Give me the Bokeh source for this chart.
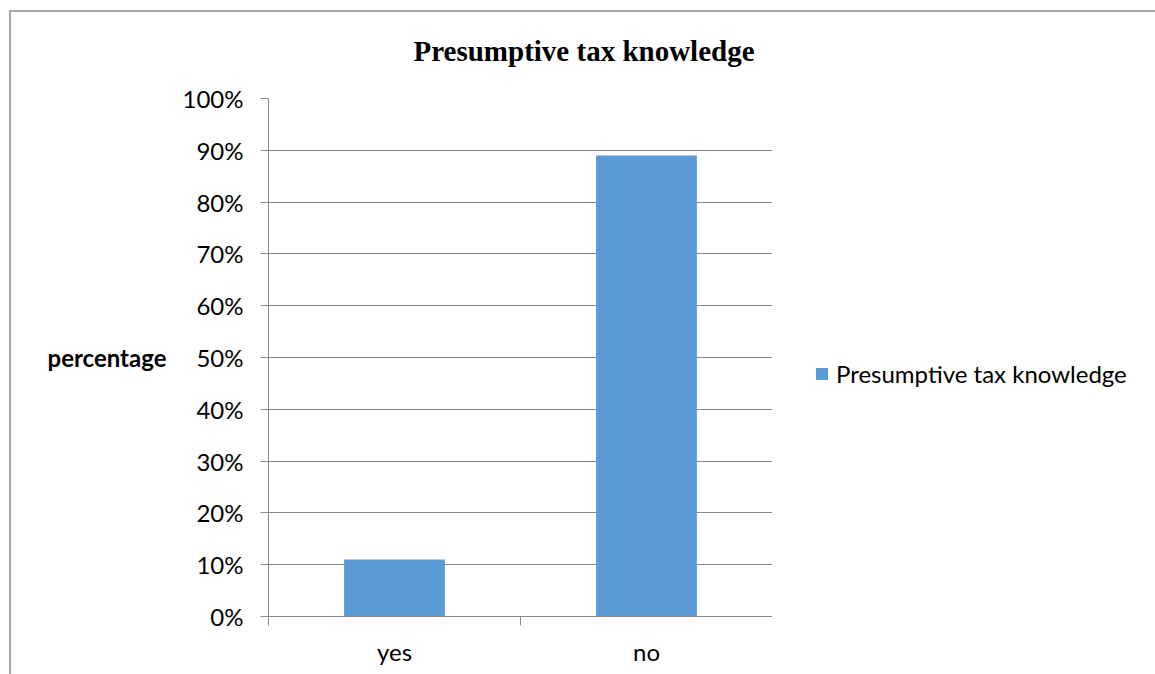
from bokeh.plotting import figure
from bokeh.layouts import row
from bokeh.models import (FixedTicker, NumeralTickFormatter, Legend, LegendItem,
                          Range1d, InlineStyleSheet)
from bokeh.embed import file_html
from bokeh.resources import INLINE

categories = ["yes", "no"]
values = [0.11, 0.89]
series_name = "Presumptive tax knowledge"
y_ticks = [0.0, 0.1, 0.2, 0.3, 0.4, 0.5, 0.6, 0.7, 0.8, 0.9, 1.0]

BAR = "#5B9BD5"
GRID = "#898989"
FONT = "Lato"

p = figure(width=772, height=674, output_backend="svg", toolbar_location=None,
           min_border_left=268, min_border_right=0, min_border_top=98, min_border_bottom=58,
           x_range=Range1d(0, len(categories)), y_range=Range1d(0, 1))

xs = [i + 0.5 for i in range(len(categories))]
r = p.vbar(x=xs, top=values, width=0.4, fill_color=BAR, line_color=None)

p.outline_line_color = None
p.background_fill_color = "white"
p.border_fill_alpha = 0

# title
p.title.text = "Presumptive tax knowledge"
p.title.align = "left"
p.title.offset = 145
p.title.standoff = 63
p.title.text_font = "Liberation Serif"
p.title.text_font_style = "bold"
p.title.text_font_size = "29px"
p.title.text_color = "black"

# y axis
p.yaxis.ticker = FixedTicker(ticks=y_ticks)
p.yaxis.formatter = NumeralTickFormatter(format="0%")
p.yaxis.major_tick_in = 0
p.yaxis.major_tick_out = 8
p.yaxis.minor_tick_line_color = None
p.yaxis.major_label_standoff = 17
p.yaxis.major_label_text_font = FONT
p.yaxis.major_label_text_font_size = "24px"
p.yaxis.major_label_text_color = "black"
p.yaxis.axis_line_color = GRID
p.yaxis.major_tick_line_color = GRID
p.yaxis.axis_label = "percentage"
p.yaxis.axis_label_text_font = FONT
p.yaxis.axis_label_text_font_style = "bold"
p.yaxis.axis_label_text_font_size = "24px"
p.yaxis.axis_label_text_color = "black"
p.yaxis.axis_label_standoff = 13
try:
    p.yaxis.axis_label_orientation = "horizontal"
except Exception:
    pass

# x axis: labels at centres, tick marks at category boundaries
p.xaxis.ticker = FixedTicker(ticks=xs, minor_ticks=list(range(len(categories) + 1)))
p.xaxis.major_label_overrides = {x: c for x, c in zip(xs, categories)}
p.xaxis.major_tick_line_color = None
p.xaxis.minor_tick_line_color = GRID
p.xaxis.minor_tick_in = 0
p.xaxis.minor_tick_out = 9
p.xaxis.major_label_standoff = 11
p.xaxis.major_label_text_font = FONT
p.xaxis.major_label_text_font_size = "24px"
p.xaxis.major_label_text_color = "black"
p.xaxis.axis_line_color = GRID

p.xgrid.grid_line_color = None
p.ygrid.grid_line_color = GRID
p.ygrid.ticker = FixedTicker(ticks=y_ticks)

# legend area (right of the plot)
p2 = figure(width=383, height=674, output_backend="svg", toolbar_location=None,
            min_border=0, x_axis_location=None, y_axis_location=None,
            x_range=Range1d(0, 1), y_range=Range1d(0, 1))
p2.grid.visible = False
p2.outline_line_color = None
p2.background_fill_alpha = 0
p2.border_fill_alpha = 0
# legend swatch renderer (kept outside the visible range of this panel)
r2 = p2.vbar(x=[-1], top=[0], width=0.4, fill_color=BAR, line_color=None)

legend = Legend(items=[LegendItem(label=series_name, renderers=[r2])],
                location=(42, 228), orientation="vertical",
                glyph_width=15, glyph_height=15, label_standoff=7,
                padding=0, margin=0, spacing=0,
                border_line_color=None, background_fill_alpha=0,
                label_text_font=FONT, label_text_font_size="24px",
                label_text_color="black")
p2.add_layout(legend, "center")

layout = row(p, p2, spacing=0)
# chart-area border (top and left edges visible in the reference)
layout.stylesheets = [InlineStyleSheet(css=(
    ":host { background-color: white;"
    " background-image: linear-gradient(#a6a6a6,#a6a6a6), linear-gradient(#a6a6a6,#a6a6a6);"
    " background-size: 1150px 2px, 2px 670px;"
    " background-position: 9px 10px, 9px 10px;"
    " background-repeat: no-repeat; }"))]

open("out.html", "w").write(file_html(layout, INLINE))
